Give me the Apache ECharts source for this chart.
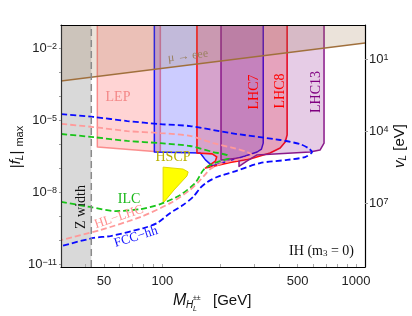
<!DOCTYPE html>
<html><head><meta charset="utf-8">
<script src="https://cdn.jsdelivr.net/npm/echarts@6/dist/echarts.min.js"></script>
<style>html,body{margin:0;padding:0;background:#fff}#c{width:412px;height:316px}</style>
</head><body><div id="c"></div>
<script>
// ---------------- data (mass in GeV, log10 |f_L|max) ----------------
const massRange = [30, 1113];
const logFRange = [-11.11, -1.03];
const logVOffset = -1.45; // log10 v_L[eV] = logVOffset - log10|f_L|max

const zWidthMass = 43;
const muToEeeLine = [[30, -3.36], [1113, -1.78]];
const lepRegion = [[46.2,-1.03],[46.2,-6.11],[97.7,-6.32],[97.7,-1.03]];
const blueRegion = [[91,-1.03],[91,-6.32],[157,-6.36],[167,-6.65],[181,-6.90],[211,-6.74],[268,-6.49],[309,-6.32],[325,-6.2],[332,-5.95],[332,-1.03]];
const redRegion = [[151,-1.03],[151,-6.36],[181,-6.40],[191,-6.52],[188,-6.70],[176,-6.86],[167,-6.99],[182,-6.92],[224,-6.76],[284,-6.61],[360,-6.36],[406,-6.15],[431,-5.9],[441,-5.61],[441,-1.03]];
const purpleRegion = [[201,-1.03],[201,-6.65],[249,-6.57],[249,-6.92],[273,-6.70],[307,-6.45],[579,-6.32],[652,-6.24],[684,-5.95],[684,-1.03]];
const hscpRegion = [[101,-6.95],[128,-7.03],[136,-7.15],[134,-7.32],[115,-7.9],[101,-8.45]];

const fccCurve = [[30.1,-4.74],[44.1,-4.86],[66,-5.03],[97.7,-5.16],[139,-5.24],[224,-5.53],[406,-5.82],[514,-5.99],[565,-6.15],[593,-6.32],[546,-6.53],[441,-6.65],[320,-6.78],[232,-7.15],[192,-7.36],[171,-7.57],[157,-7.82],[144,-8.20],[128,-8.53],[110,-8.86],[94,-9.28],[80,-9.49],[54,-9.82],[44,-9.90],[30.1,-10.24]];
const hllhcCurve = [[30.1,-5.15],[44.1,-5.28],[66,-5.45],[97.7,-5.53],[139,-5.65],[183,-5.95],[232,-6.15],[274,-6.32],[290,-6.45],[268,-6.57],[204,-6.78],[177,-7.03],[157,-7.49],[139,-7.90],[110,-8.45],[77,-9.03],[47.9,-9.57],[30.1,-9.99]];
const ilcCurve = [[30.1,-5.57],[44.1,-5.70],[66,-5.86],[97.7,-5.95],[139,-6.07],[183,-6.32],[216,-6.45],[221,-6.57],[199,-6.70],[181,-6.82],[163,-7.07],[148,-7.61],[124,-8.11],[97.7,-8.49],[77,-8.70],[57.3,-8.78],[42.5,-8.61],[30.1,-8.40]];

const xLabelValues = [50, 100, 500, 1000];
const xTickValues = [40,50,60,70,80,90,100,200,300,400,500,600,700,800,900,1000];
const yLabelExps = [-11, -8, -5, -2];
const yTickExps = [-11,-10,-9,-8,-7,-6,-5,-4,-3,-2];
const vLabelExps = [1, 4, 7];

// ---------------- chart ----------------
const L = Math.log10;
const xy = pts => pts.map(p => [L(p[0]), p[1]]);
const SANS = 'Liberation Sans, Arial, sans-serif';
const SERIF = 'Liberation Serif, Times New Roman, serif';

function region(pts, fill, stroke, lw, z) {
  const d = xy(pts);
  return {
    type: 'custom', coordinateSystem: 'cartesian2d', xAxisIndex: 0, yAxisIndex: 0,
    silent: true, clip: true, z: z, data: [d[0]],
    renderItem: (params, api) => ({
      type: 'polygon',
      shape: { points: d.map(p => api.coord(p)) },
      style: { fill: fill, stroke: stroke, lineWidth: lw, lineJoin: 'round' }
    })
  };
}
function curve(pts, color, width, dash, z, smooth) {
  return {
    type: 'line', xAxisIndex: 0, yAxisIndex: 0, data: xy(pts), symbol: 'none', showSymbol: false,
    smooth: smooth, silent: true, clip: true, z: z,
    lineStyle: { color: color, width: width, type: dash }
  };
}

const chart = echarts.init(document.getElementById('c'), null, { renderer: 'canvas', width: 412, height: 316 });
const supRich = {
  b: { fontSize: 13, lineHeight: 13, fontFamily: SANS, color: '#222', verticalAlign: 'bottom' },
  s: { fontSize: 9, lineHeight: 9, fontFamily: SANS, color: '#222', verticalAlign: 'top', padding: [0, 0, 8, 0] }
};
const xMin = L(massRange[0]), xMax = L(massRange[1]);

chart.setOption({
  animation: false,
  backgroundColor: '#fff',
  grid: { left: 61, right: 47, top: 25, bottom: 49, containLabel: false },
  xAxis: [
    { type: 'value', min: xMin, max: xMax, position: 'bottom', z: 20,
      axisLine: { show: true, onZero: false, lineStyle: { color: '#000', width: 1.2 } },
      splitLine: { show: false },
      axisTick: { show: true, inside: true, length: 3, customValues: xTickValues.map(L), lineStyle: { color: '#aaa' } },
      axisLabel: { customValues: xLabelValues.map(L), formatter: v => String(Math.round(Math.pow(10, v))),
        fontSize: 13, fontFamily: SANS, color: '#222', margin: 8 } },
    { type: 'value', min: xMin, max: xMax, position: 'top', z: 20,
      axisLine: { show: true, onZero: false, lineStyle: { color: '#000', width: 1.2 } },
      splitLine: { show: false }, axisTick: { show: false }, axisLabel: { show: false } }
  ],
  yAxis: [
    { type: 'value', min: logFRange[0], max: logFRange[1], position: 'left', z: 20,
      axisLine: { show: true, onZero: false, lineStyle: { color: '#333', width: 1.2 } },
      splitLine: { show: false },
      axisTick: { show: true, inside: false, length: 2, customValues: yTickExps, lineStyle: { color: '#999' } },
      axisLabel: { customValues: yLabelExps, formatter: v => '{b|10}{s|\u2212' + Math.abs(Math.round(v)) + '}',
        rich: supRich, margin: 4 } },
    { type: 'value', inverse: true, min: logVOffset - logFRange[1], max: logVOffset - logFRange[0], position: 'right', z: 20,
      axisLine: { show: true, onZero: false, lineStyle: { color: '#000', width: 1.2 } },
      splitLine: { show: false },
      axisTick: { show: true, inside: false, length: 3, customValues: vLabelExps, lineStyle: { color: '#999' } },
      axisLabel: { customValues: vLabelExps, formatter: v => '{b|10}{s|' + Math.round(v) + '}',
        rich: supRich, margin: 4 } }
  ],
  series: [
    region([[massRange[0], logFRange[0]], [zWidthMass, logFRange[0]], [zWidthMass, logFRange[1]], [massRange[0], logFRange[1]]], '#d9d9d9', null, 0, 1),
    region(lepRegion, 'rgba(255,0,0,0.17)', 'rgba(250,110,110,0.75)', 1.5, 2),
    region(blueRegion, 'rgba(0,0,255,0.2)', '#1515ff', 1.5, 3),
    region(redRegion, 'rgba(255,0,0,0.2)', '#ff1010', 1.6, 4),
    region(purpleRegion, 'rgba(128,0,128,0.2)', '#8a1a8a', 1.5, 5),
    region(hscpRegion, '#ffff00', '#e0d800', 1, 6),
    curve(ilcCurve, '#18c418', 1.8, [6, 3], 7, 0.25),
    curve(hllhcCurve, '#ff9a9a', 1.8, [6, 3], 7, 0.25),
    curve(fccCurve, '#0a0aff', 1.8, [6, 3], 8, 0.25),
    region([muToEeeLine[0], muToEeeLine[1], [massRange[1], logFRange[1]], [massRange[0], logFRange[1]]], 'rgba(155,115,70,0.2)', null, 0, 9),
    curve(muToEeeLine, '#a0703c', 1.5, 'solid', 10, 0),
    curve([[zWidthMass, logFRange[0]], [zWidthMass, logFRange[1]]], '#8a8a8a', 1.5, [7, 4], 10, 0)
  ],
  graphic: [
    { type: 'text', x: 118, y: 97, style: { text: 'LEP', font: '14px ' + SERIF, fill: '#f48888', align: 'center', verticalAlign: 'middle' }, z: 30 },
    { type: 'text', x: 188, y: 56, rotation: 0.12, style: { text: '\u03bc \u2192 eee', font: '12px ' + SERIF, fill: '#9a8060', align: 'center', verticalAlign: 'middle' }, z: 30 },
    { type: 'text', x: 254, y: 92, rotation: Math.PI / 2, style: { text: 'LHC7', font: '14px ' + SERIF, fill: '#ff0000', align: 'center', verticalAlign: 'middle' }, z: 30 },
    { type: 'text', x: 280, y: 91, rotation: Math.PI / 2, style: { text: 'LHC8', font: '14px ' + SERIF, fill: '#ff0000', align: 'center', verticalAlign: 'middle' }, z: 30 },
    { type: 'text', x: 316, y: 92, rotation: Math.PI / 2, style: { text: 'LHC13', font: '14px ' + SERIF, fill: '#800080', align: 'center', verticalAlign: 'middle' }, z: 30 },
    { type: 'text', x: 173, y: 157, style: { text: 'HSCP', font: '14px ' + SERIF, fill: '#b8b000', align: 'center', verticalAlign: 'middle' }, z: 30 },
    { type: 'text', x: 129, y: 199, style: { text: 'ILC', font: '14px ' + SERIF, fill: '#18b818', align: 'center', verticalAlign: 'middle' }, z: 30 },
    { type: 'text', x: 119, y: 217, rotation: 0.32, style: { text: 'HL\u2212LHC', font: '13px ' + SERIF, fill: '#ff9090', align: 'center', verticalAlign: 'middle' }, z: 30 },
    { type: 'text', x: 136, y: 237, rotation: 0.3, style: { text: 'FCC\u2212hh', font: '13px ' + SERIF, fill: '#1010ff', align: 'center', verticalAlign: 'middle' }, z: 30 },
    { type: 'text', x: 81, y: 207, rotation: Math.PI / 2, style: { text: 'Z width', font: '14px ' + SERIF, fill: '#111', align: 'center', verticalAlign: 'middle' }, z: 30 },
    { type: 'text', x: 354, y: 251, style: { text: 'IH (m{s|3} = 0)', font: '14px ' + SERIF, fill: '#111', align: 'right', verticalAlign: 'middle',
        rich: { s: { fontSize: 9, fontFamily: SERIF, fill: '#111', verticalAlign: 'bottom', padding: [6, 0, 0, 0] } } }, z: 30 },
    // axis titles
    { type: 'text', x: 17, y: 147, rotation: Math.PI / 2, style: { text: '|{i|f}{l|L}| {m|max}', font: '15px ' + SANS, fill: '#111', align: 'center', verticalAlign: 'middle',
        rich: { i: { fontSize: 15, fontStyle: 'italic', fontFamily: SANS, verticalAlign: 'top' }, l: { fontSize: 10, fontStyle: 'italic', fontFamily: SANS, verticalAlign: 'bottom', padding: [6, 0, 0, 0] }, m: { fontSize: 11, fontFamily: SANS, verticalAlign: 'bottom', padding: [6, 0, 0, 0] } } }, z: 30 },
    { type: 'text', x: 400, y: 146, rotation: Math.PI / 2, style: { text: '{i|v}{l|L} [eV]', font: '15px ' + SANS, fill: '#111', align: 'center', verticalAlign: 'middle',
        rich: { i: { fontSize: 15, fontStyle: 'italic', fontFamily: SANS, verticalAlign: 'top' }, l: { fontSize: 10, fontStyle: 'italic', fontFamily: SANS, verticalAlign: 'bottom', padding: [6, 0, 0, 0] } } }, z: 30 },
    { type: 'text', x: 173, y: 301, style: { text: 'M', font: 'italic 16px ' + SANS, fill: '#111', align: 'left', verticalAlign: 'middle' }, z: 30 },
    { type: 'text', x: 186, y: 305, style: { text: 'H', font: 'italic 10px ' + SANS, fill: '#111', align: 'left', verticalAlign: 'middle' }, z: 30 },
    { type: 'text', x: 193, y: 298, style: { text: '\u00b1\u00b1', font: '7px ' + SANS, fill: '#111', align: 'left', verticalAlign: 'middle' }, z: 30 },
    { type: 'text', x: 193, y: 309, style: { text: 'L', font: 'italic 7px ' + SANS, fill: '#111', align: 'left', verticalAlign: 'middle' }, z: 30 },
    { type: 'text', x: 213, y: 301, style: { text: '[GeV]', font: '15px ' + SANS, fill: '#111', align: 'left', verticalAlign: 'middle' }, z: 30 }
  ]
});
</script></body></html>
